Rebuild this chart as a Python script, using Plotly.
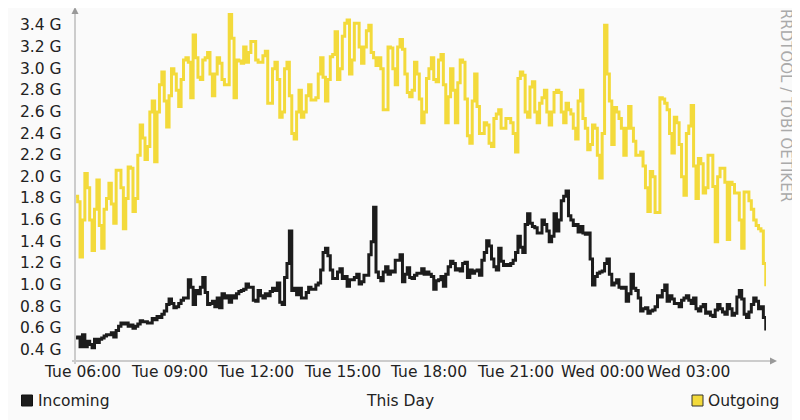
import pandas as pd
import plotly.graph_objects as go

# ---- data (values in G, 5-minute steps) ----
start_time = "2024-01-02 05:45"   # Tuesday
step = "5min"

outgoing = [
    1.82, 1.77, 1.26, 1.6, 2.03, 1.9, 1.6, 1.32, 1.7, 1.97,
    1.55, 1.34, 1.7, 1.8, 1.94, 1.75, 1.57, 2.06, 2.06, 1.9,
    1.52, 1.8, 2.09, 2.08, 1.68, 1.8, 2.2, 2.48, 2.36, 2.16,
    2.28, 2.6, 2.7, 2.14, 2.6, 2.85, 2.97, 2.7, 2.46, 2.75,
    3.0, 2.95, 2.8, 2.65, 2.9, 3.08, 3.1, 3.06, 2.73, 3.31,
    3.1, 2.92, 2.9, 3.08, 3.1, 3.15, 2.95, 2.75, 2.95, 3.1,
    3.05, 2.9, 2.85, 2.85, 3.5, 3.28, 2.73, 3.08, 3.07, 3.05,
    3.2, 3.06, 3.15, 3.25, 3.25, 3.08, 3.06, 3.06, 3.12, 3.16,
    2.68, 2.68, 3.0, 3.06, 2.9, 2.55, 2.6, 3.0, 3.06, 2.75,
    2.4, 2.35, 2.6, 2.8, 2.55, 2.6, 2.75, 2.85, 2.71, 2.71,
    2.73, 2.95, 3.1, 2.92, 2.7, 2.9, 3.11, 3.13, 3.34, 2.9,
    3.0, 3.3, 3.42, 3.45, 2.95, 3.08, 3.42, 3.42, 3.2, 3.05,
    3.2, 3.35, 3.4, 3.15, 3.1, 3.03, 3.1, 3.0, 2.62, 2.62,
    3.2, 3.19, 3.0, 2.85, 3.2, 3.27, 3.18, 2.95, 2.78, 2.74,
    2.8, 3.06, 2.95, 2.72, 2.5, 2.6, 2.91, 3.0, 3.1, 2.9,
    2.88, 3.08, 3.13, 2.85, 2.5, 2.74, 3.0, 2.8, 2.5, 2.87,
    3.08, 3.06, 2.72, 2.38, 2.31, 2.7, 2.95, 2.65, 2.4, 2.4,
    2.5, 2.48, 2.31, 2.28, 2.54, 2.58, 2.62, 2.45, 2.45, 2.54,
    2.54, 2.5, 2.4, 2.23, 2.91, 2.97, 2.94, 2.6, 2.55, 2.83,
    2.88, 2.6, 2.5, 2.68, 2.73, 2.8, 2.6, 2.48, 2.6, 2.78,
    2.8, 2.78, 2.6, 2.5, 2.68, 2.62, 2.58, 2.45, 2.35, 2.7,
    2.8, 2.54, 2.45, 2.25, 2.3, 2.48, 2.45, 2.2, 1.99, 2.4,
    3.4, 2.95, 2.7, 2.3, 2.64, 2.6, 2.54, 2.45, 2.2, 2.45,
    2.65, 2.45, 2.33, 2.2, 2.2, 2.23, 2.1, 1.9, 1.68, 2.05,
    2.0, 1.67, 1.67, 2.73, 2.72, 2.68, 2.62, 2.4, 2.22, 2.55,
    2.5, 2.3, 2.0, 1.83, 2.4, 2.47, 2.66, 2.1, 1.8, 2.17,
    2.12, 1.85, 1.9, 2.2, 2.2, 1.91, 1.4, 2.0, 2.08, 2.08,
    1.95, 1.42, 1.95, 1.93, 1.85, 1.85, 1.6, 1.34, 1.86, 1.86,
    1.78, 1.7, 1.6, 1.55, 1.52, 1.5, 1.2, 0.99,
]

incoming = [
    0.51, 0.52, 0.43, 0.54, 0.43, 0.48, 0.45, 0.42, 0.5, 0.47,
    0.5, 0.51, 0.53, 0.54, 0.54, 0.56, 0.52, 0.58, 0.62, 0.65,
    0.64, 0.65, 0.62, 0.63, 0.6, 0.62, 0.64, 0.67, 0.66, 0.66,
    0.65, 0.65, 0.69, 0.68, 0.71, 0.7, 0.73, 0.76, 0.82, 0.87,
    0.83, 0.79, 0.8, 0.83, 0.86, 0.88, 0.88, 1.05, 0.98, 0.82,
    0.95, 0.92, 0.98, 1.07, 0.93, 0.82, 0.83, 0.85, 0.8, 0.88,
    0.79, 0.92, 0.88, 0.9, 0.84, 0.9, 0.88, 0.92, 0.94, 0.95,
    0.96, 1.01, 0.98, 0.98, 0.86, 0.85, 0.95, 0.9, 0.88, 0.92,
    0.9, 0.94, 0.97, 0.95, 1.02, 0.84, 0.82, 1.07, 1.2, 1.5,
    0.95, 0.97, 0.91, 0.97, 0.88, 0.88, 0.93, 0.98, 0.96, 0.96,
    1.0, 1.02, 1.14, 1.3, 1.34, 1.27, 1.14, 1.06, 1.06, 1.12,
    1.15, 1.06, 1.08, 0.99, 1.05, 1.05, 1.07, 1.1, 1.01, 1.03,
    1.09, 1.09, 1.28, 1.4, 1.72, 1.12, 1.07, 1.04, 1.12, 1.17,
    1.1, 1.13, 1.12, 1.23, 1.23, 1.28, 1.03, 1.1, 1.16, 1.07,
    1.06, 1.09, 1.11, 1.11, 1.15, 1.1, 1.12, 1.1, 1.08, 0.96,
    1.04, 1.05, 1.08, 0.99, 1.1, 1.17, 1.22, 1.2, 1.14, 1.15,
    1.13, 1.2, 1.21, 1.07, 1.14, 1.11, 1.13, 1.14, 1.09, 1.23,
    1.3, 1.41, 1.36, 1.24, 1.17, 1.14, 1.34, 1.22, 1.18, 1.19,
    1.18, 1.2, 1.23, 1.3, 1.45, 1.35, 1.3, 1.56, 1.66, 1.57,
    1.54, 1.53, 1.48, 1.48, 1.6, 1.56, 1.5, 1.4, 1.45, 1.66,
    1.5, 1.6, 1.78, 1.82, 1.87, 1.64, 1.6, 1.55, 1.56, 1.49,
    1.54, 1.48, 1.47, 1.48, 1.24, 1.0, 1.08, 1.11, 1.12, 1.13,
    1.2, 1.24, 1.1, 1.0, 1.02, 1.05, 0.98, 0.97, 0.98, 0.85,
    0.92, 1.1, 0.97, 0.95, 0.88, 0.76, 0.78, 0.79, 0.74, 0.76,
    0.77, 0.8, 0.9, 0.89, 0.95, 1.0, 0.85, 0.9, 0.87, 0.83,
    0.83, 0.8, 0.86, 0.88, 0.9, 0.86, 0.83, 0.88, 0.78, 0.76,
    0.8, 0.82, 0.74, 0.75, 0.72, 0.71, 0.77, 0.82, 0.78, 0.75,
    0.73, 0.82, 0.78, 0.72, 0.74, 0.89, 0.95, 0.87, 0.73, 0.7,
    0.75, 0.82, 0.88, 0.85, 0.78, 0.8, 0.7, 0.58,
]

tick_times = ["2024-01-02 06:00", "2024-01-02 09:00", "2024-01-02 12:00",
              "2024-01-02 15:00", "2024-01-02 18:00", "2024-01-02 21:00",
              "2024-01-03 00:00", "2024-01-03 03:00"]
tick_labels = ["Tue 06:00", "Tue 09:00", "Tue 12:00", "Tue 15:00",
               "Tue 18:00", "Tue 21:00", "Wed 00:00", "Wed 03:00"]
y_ticks = [0.4, 0.6, 0.8, 1.0, 1.2, 1.4, 1.6, 1.8, 2.0, 2.2, 2.4,
           2.6, 2.8, 3.0, 3.2, 3.4]
y_labels = [f"{v:.1f} G" for v in y_ticks]

times = pd.date_range(start_time, periods=len(outgoing), freq=step)

# ---- styling ----
OFF = 8                       # default body margin of the html page
W, H = 800 - OFF, 420 - OFF
L, R, T, B = 75, 766, 10, 361  # plot area in page pixels
BG = "#FAFAFA"
YELLOW = "#F3DA3B"
BLACK = "#1C1C1C"
AXIS = "#CCCCCC"
ARROW = "#999999"
TXT = "#222222"
FONT = "DejaVu Sans"
FS = 15.5


def px(x):
    return (x - L) / (R - L)


def py(y):
    return (B - y) / (B - T)


fig = go.Figure()
fig.add_trace(go.Scatter(x=times, y=outgoing, mode="lines", name="Outgoing",
                         line=dict(color=YELLOW, width=3, shape="hv")))
fig.add_trace(go.Scatter(x=times, y=incoming, mode="lines", name="Incoming",
                         line=dict(color=BLACK, width=3, shape="hv")))

shapes = [
    dict(type="line", xref="paper", yref="paper", x0=px(72), x1=px(771),
         y0=py(B), y1=py(B), line=dict(color=AXIS, width=2)),
    dict(type="path", xref="paper", yref="paper",
         path=f"M {px(770)},{py(B-3.5)} L {px(777)},{py(B)} L {px(770)},{py(B+3.5)} Z",
         fillcolor=ARROW, line=dict(color=ARROW, width=0)),
    dict(type="line", xref="paper", yref="paper", x0=px(L), x1=px(L),
         y0=py(364), y1=py(14), line=dict(color=AXIS, width=2)),
    dict(type="path", xref="paper", yref="paper",
         path=f"M {px(L-3.5)},{py(14)} L {px(L)},{py(7)} L {px(L+3.5)},{py(14)} Z",
         fillcolor=ARROW, line=dict(color=ARROW, width=0)),
    dict(type="rect", xref="paper", yref="paper", x0=px(21.5), x1=px(32.5),
         y0=py(406), y1=py(395), fillcolor=BLACK, line=dict(color="#111111", width=1)),
    dict(type="rect", xref="paper", yref="paper", x0=px(692), x1=px(703),
         y0=py(406), y1=py(395), fillcolor=YELLOW, line=dict(color="#333333", width=1)),
]

tfont = dict(family=FONT, size=FS, color=TXT)
annotations = [
    dict(text="Incoming", x=px(36), y=py(400.5), xref="paper", yref="paper",
         xanchor="left", yanchor="middle", showarrow=False, font=tfont),
    dict(text="This Day", x=px(400), y=py(400.5), xref="paper", yref="paper",
         xanchor="center", yanchor="middle", showarrow=False, font=tfont),
    dict(text="Outgoing", x=px(706), y=py(400.5), xref="paper", yref="paper",
         xanchor="left", yanchor="middle", showarrow=False, font=tfont),
    dict(text="RRDTOOL / TOBI OETIKER", x=px(786), y=py(105), xref="paper",
         yref="paper", xanchor="center", yanchor="middle", showarrow=False,
         textangle=90, width=205, height=18,
         font=dict(family=FONT, size=15, color="#AAAAAA")),
]
# x tick labels
for t, lab in zip(tick_times, tick_labels):
    annotations.append(dict(text=lab, x=t, xref="x", y=py(372), yref="paper",
                            xanchor="center", yanchor="middle", showarrow=False,
                            font=tfont))
# y tick labels
for v, lab in zip(y_ticks, y_labels):
    annotations.append(dict(text=lab, x=px(64), xref="paper", y=v, yref="y",
                            xanchor="right", yanchor="middle", showarrow=False,
                            font=tfont))

fig.update_layout(
    width=W, height=H,
    margin=dict(l=L - OFF, r=W - (R - OFF), t=T - OFF, b=H - (B - OFF),
                autoexpand=False),
    paper_bgcolor=BG, plot_bgcolor=BG,
    showlegend=False,
    shapes=shapes, annotations=annotations,
    xaxis=dict(type="date",
               range=["2024-01-02 05:44:30", "2024-01-03 05:40:30"],
               tickvals=tick_times, showticklabels=False,
               showgrid=False, zeroline=False, showline=False, ticks=""),
    yaxis=dict(range=[0.298, 3.542], tickvals=y_ticks, showticklabels=False,
               showgrid=False, zeroline=False, showline=False, ticks=""),
)

fig.write_html("out.html")
